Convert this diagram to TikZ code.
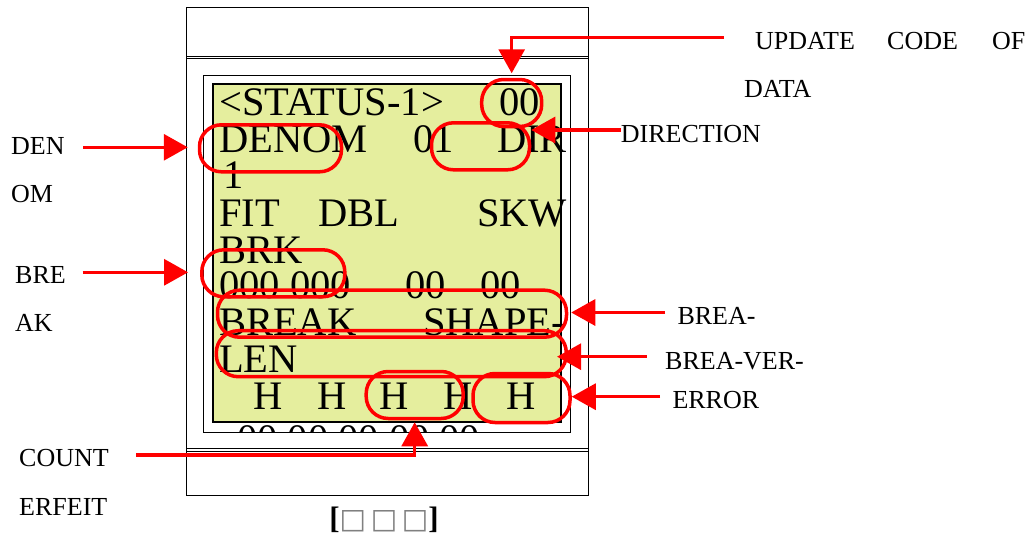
\documentclass[tikz,border=0pt]{standalone}
\usepackage{fontspec}
\setmainfont{Liberation Serif}
\newfontfamily\boxfont{DejaVu Sans}
\usetikzlibrary{arrows.meta}
\definecolor{lcdyellow}{RGB}{229,238,158}

\begin{document}
\begin{tikzpicture}[x=1pt,y=-1pt,
  lcd text/.style={anchor=base west,inner sep=0pt,font=\fontsize{40.5}{40}\selectfont},
  side text/.style={anchor=base west,inner sep=0pt,font=\fontsize{26}{26}\selectfont},
  ring/.style={draw=red,line width=3.5pt,rounded corners=22pt,minimum height=47pt,inner sep=0pt},
  pointer/.style={draw=red,line width=3.2pt,-{Triangle[length=24pt,width=26pt]}}]

  \useasboundingbox (0,0) rectangle (1031,538);

  % panel
  \draw[line width=1pt] (186,7) rectangle (588,495);
  \draw[line width=0.8pt] (186,56) -- (588,56) (186,58.7) -- (588,58.7);
  \draw[line width=0.8pt] (186,448.3) -- (588,448.3) (186,451) -- (588,451);
  \draw[line width=1pt] (203,75) rectangle (570,432);
  \begin{scope}
    \clip (203,75) rectangle (570,432);
    \node[lcd text] (l10) at (237,452) {00 00 00 00 00};
  \end{scope}
  \draw[line width=1.8pt,fill=lcdyellow] (213,84) rectangle (561,422);

  % screen text
  \node[lcd text] (l1a) at (219,115) {<STATUS-1>};
  \node[lcd text] (l1b) at (499,115) {00};
  \node[lcd text] (l2a) at (219,152) {DENOM};
  \node[lcd text] (l2b) at (413,152) {01};
  \node[lcd text] (l2c) at (497,152) {DIR};
  \node[lcd text] (l3a) at (223,188) {1};
  \node[lcd text] (l4a) at (219,226) {FIT};
  \node[lcd text] (l4b) at (318,226) {DBL};
  \node[lcd text] (l4c) at (477,226) {SKW};
  \node[lcd text] (l5a) at (219,263) {BRK};
  \node[lcd text] (l6a) at (219,298) {000 000};
  \node[lcd text] (l6b) at (405,298) {00};
  \node[lcd text] (l6c) at (480,298) {00};
  \node[lcd text] (l7a) at (219,335) {BREAK};
  \node[lcd text] (l7b) at (423,335) {SHAPE-};
  \node[lcd text] (l8a) at (219,372) {LEN};
  \node[lcd text] (l9a) at (253,409) {H};
  \node[lcd text] (l9b) at (317,409) {H};
  \node[lcd text] (l9c) at (379,409) {H};
  \node[lcd text] (l9d) at (443,409) {H};
  \node[lcd text] (l9e) at (506,409) {H};

  % rings
  \node[ring,minimum width=60pt] (r00) at (511.7,103) {};
  \node[ring,minimum width=98pt] (rDir) at (480.5,146.3) {};
  \node[ring,minimum width=142pt] (rDen) at (270.5,148.3) {};
  \node[ring,minimum width=143pt] (rBrk) at (273.3,273.3) {};
  \node[ring,minimum width=349pt] (rBreak) at (392,313.7) {};
  \node[ring,minimum width=350pt,minimum height=46pt] (rLen) at (391.3,353.7) {};
  \node[ring,minimum width=97pt] (rCnt) at (414.7,395) {};
  \node[ring,minimum width=97pt,minimum height=49pt] (rErr) at (521.5,398) {};

  % labels
  \node[side text] (tUpd) at (755,49.3) {UPDATE};
  \node[side text] (tCode) at (887,49.3) {CODE};
  \node[side text] (tOf) at (992,49.3) {OF};
  \node[side text] (tData) at (744,97.7) {DATA};
  \node[side text] (tDir) at (620.7,142.7) {DIRECTION};
  \node[side text] (tDen) at (11,154.3) {DEN};
  \node[side text] (tOm) at (11,202.3) {OM};
  \node[side text] (tBre) at (15,283.3) {BRE};
  \node[side text] (tAk) at (15,331.7) {AK};
  \node[side text] (tBrea) at (677.3,324) {BREA-};
  \node[side text] (tVer) at (665,369) {BREA-VER-};
  \node[side text] (tErr) at (672.3,408.3) {ERROR};
  \node[side text] (tCount) at (19,466.7) {COUNT};
  \node[side text] (tErf) at (19,515) {ERFEIT};
  \node[side text,anchor=base,font=\fontsize{31}{31}\selectfont] (cap) at (384,528)
    {\bfseries[\boxfont\mdseries\color{gray}\fontsize{28}{28}\selectfont□\,□\,□\rmfamily\bfseries\color{black}\fontsize{31}{31}\selectfont]};

  % arrows
  \coordinate (cUpd) at (724,37.7);
  \coordinate (cDir) at (620.7,130);
  \coordinate (cDen) at (83,147.3);
  \coordinate (cBre) at (82.7,272.3);
  \coordinate (cBrea) at (665,312.5);
  \coordinate (cVer) at (646.7,356.7);
  \coordinate (cErr) at (660,396.7);
  \coordinate (cCnt) at (136,455);
  \draw[pointer,shorten >=4.5pt] (cUpd) -| (r00.north);
  \draw[pointer] (cDir) -- (rDir.east |- cDir);
  \draw[pointer,shorten >=10pt] (cDen) -- (rDen.west |- cDen);
  \draw[pointer,shorten >=12pt] (cBre) -- (rBrk.west |- cBre);
  \draw[pointer,shorten >=3pt] (cBrea) -- (rBreak.east |- cBrea);
  \draw[pointer,shorten >=-11pt] (cVer) -- (rLen.east |- cVer);
  \draw[pointer] (cErr) -- (rErr.east |- cErr);
  \draw[pointer,shorten >=2pt] (cCnt) -| (rCnt.south);
\end{tikzpicture}
\end{document}
